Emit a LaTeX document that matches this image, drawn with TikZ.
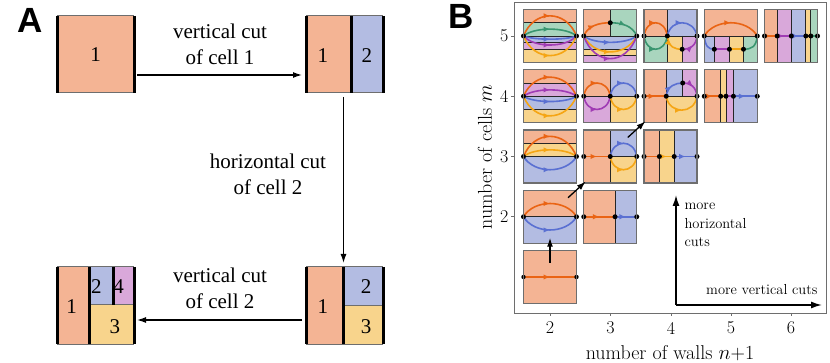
\documentclass[tikz,border=0pt]{standalone}
\usepackage{fontspec}
\usepackage{tikz}
\usetikzlibrary{arrows.meta, positioning, calc, decorations.markings}
\newfontfamily\timesfont{Liberation Serif}
\newfontfamily\headfont{Liberation Sans}
\definecolor{cellorange}{HTML}{F4B494}
\definecolor{cellblue}{HTML}{B3BCE2}
\definecolor{cellyellow}{HTML}{F8D48C}
\definecolor{cellpurple}{HTML}{D9A8DA}
\definecolor{cellgreen}{HTML}{A9D5BE}
\definecolor{pathorange}{HTML}{EA6414}
\definecolor{pathblue}{HTML}{5A70D2}
\definecolor{pathyellow}{HTML}{F5A514}
\definecolor{pathpurple}{HTML}{A03CB4}
\definecolor{pathgreen}{HTML}{3A9670}
\definecolor{framegray}{HTML}{6E6E6E}
\tikzstyle{bigbox} = [rectangle, minimum size=77pt, inner sep=0pt, outer sep=0pt]
\tikzstyle{smallbox} = [rectangle, minimum size=53pt, inner sep=0pt, outer sep=0pt]
\tikzstyle{inbig} = [x=77pt, y=-77pt]
\tikzstyle{insmall} = [x=53pt, y=-53pt]
\tikzstyle{wall} = [line width=3pt, black]
\tikzstyle{rimline} = [line width=1pt, framegray]
\tikzstyle{cutline} = [line width=0.9pt, black!85]
\tikzstyle{cellframe} = [line width=1.1pt, framegray]
\tikzstyle{flow} = [line width=1.6pt, decoration={markings, mark=at position 0.5 with {\arrow{Latex[length=6.5pt,width=5.5pt]}}}, postaction={decorate}]
\tikzstyle{flowline} = [line width=1.6pt]
\tikzstyle{wdot} = [black]
\tikzstyle{arrow} = [line width=1.3pt, -{Latex[length=9pt,width=6pt]}]
\tikzstyle{bigarrow} = [line width=1.5pt, -{Latex[length=11pt,width=7pt]}]
\tikzstyle{cutlabel} = [font=\timesfont\fontsize{21}{26}\selectfont, align=center]
\tikzstyle{celllabel} = [font=\timesfont\fontsize{21}{24}\selectfont, inner sep=0pt]
\tikzstyle{panellabel} = [font=\headfont\bfseries\fontsize{35}{35}\selectfont]
\tikzstyle{ticklabel} = [font=\fontsize{18}{18}\selectfont]
\tikzstyle{axislabel} = [font=\fontsize{20}{20}\selectfont]
\tikzstyle{notelabel} = [font=\fontsize{14.5}{18.5}\selectfont, align=left]

\begin{document}
\begin{tikzpicture}[x=1pt, y=-1pt]
  \useasboundingbox (0,0) rectangle (830,363);

  \node (labA) [panellabel] at (30,20) {A};
  \node (boxa) [bigbox] at (95.5,54.5) {};
  \node (boxb) [bigbox, right=172pt of boxa] {};
  \node (boxc) [bigbox, below=174pt of boxb] {};
  \node (boxd) [bigbox, left=172pt of boxc] {};

  \begin{scope}[shift={(boxa.north west)}, inbig]
    \fill[cellorange] (0,0) rectangle (1,1);
    \draw[rimline] (0,0) -- (1,0) (0,1) -- (1,1);
    \draw[wall] (0,0) -- (0,1) (1,0) -- (1,1);
    \node (la1) [celllabel] at (0.5,0.5) {1};
  \end{scope}
  \begin{scope}[shift={(boxb.north west)}, inbig]
    \fill[cellorange] (0,0) rectangle (0.59,1);
    \fill[cellblue] (0.59,0) rectangle (1,1);
    \draw[rimline] (0,0) -- (1,0) (0,1) -- (1,1);
    \draw[wall] (0,0) -- (0,1) (0.59,0) -- (0.59,1) (1,0) -- (1,1);
    \node (lb1) [celllabel] at (0.22,0.52) {1};
    \node (lb2) [celllabel] at (0.79,0.52) {2};
  \end{scope}
  \begin{scope}[shift={(boxc.north west)}, inbig]
    \fill[cellorange] (0,0) rectangle (0.49,1);
    \fill[cellblue] (0.49,0) rectangle (1,0.5);
    \fill[cellyellow] (0.49,0.5) rectangle (1,1);
    \draw[rimline] (0,0) -- (1,0) (0,1) -- (1,1) (0.49,0.5) -- (1,0.5);
    \draw[wall] (0,0) -- (0,1) (0.49,0) -- (0.49,1) (1,0) -- (1,1);
    \node (lc1) [celllabel] at (0.22,0.52) {1};
    \node (lc2) [celllabel] at (0.78,0.26) {2};
    \node (lc3) [celllabel] at (0.78,0.77) {3};
  \end{scope}
  \begin{scope}[shift={(boxd.north west)}, inbig]
    \fill[cellorange] (0,0) rectangle (0.42,1);
    \fill[cellblue] (0.42,0) rectangle (0.74,0.49);
    \fill[cellpurple] (0.74,0) rectangle (1,0.49);
    \fill[cellyellow] (0.42,0.49) rectangle (1,1);
    \draw[rimline] (0,0) -- (1,0) (0,1) -- (1,1) (0.42,0.49) -- (1,0.49);
    \draw[wall] (0,0) -- (0,1) (0.42,0) -- (0.42,1) (0.74,0) -- (0.74,0.49) (1,0) -- (1,1);
    \node (ld1) [celllabel] at (0.19,0.51) {1};
    \node (ld2) [celllabel] at (0.51,0.26) {2};
    \node (ld4) [celllabel] at (0.80,0.26) {4};
    \node (ld3) [celllabel] at (0.75,0.77) {3};
  \end{scope}

  \draw[arrow] ([xshift=3pt,yshift=-20.5pt]boxa.east) -- ([xshift=-4pt,yshift=-20.5pt]boxb.west);
  \draw[arrow] ([xshift=-1pt,yshift=-4pt]boxb.south) -- ([xshift=-1pt,yshift=4pt]boxc.north);
  \draw[arrow] ([xshift=-4pt,yshift=-14.5pt]boxc.west) -- ([xshift=3pt,yshift=-14.5pt]boxd.east);
  \node (cut1) [cutlabel] at (220,44) {vertical cut\\of cell 1};
  \node (cut2) [cutlabel] at (268,174) {horizontal cut\\of cell 2};
  \node (cut3) [cutlabel] at (220,288) {vertical cut\\of cell 2};

  \node (labB) [panellabel] at (461,16) {B};
  \draw[framegray, line width=0.8pt] (514,2) rectangle (826,313);
  \foreach \i/\x in {2/550,3/610.5,4/671,5/731,6/791} {
    \draw[framegray, line width=0.8pt] (\x,313) -- (\x,316);
    \node (xt\i) [ticklabel] at (\x,328) {\i};
  }
  \foreach \m/\y in {2/216.75,3/156.5,4/96.25,5/36} {
    \draw[framegray, line width=0.8pt] (511,\y) -- (514,\y);
    \node (yt\m) [ticklabel, anchor=east] at (512,\y) {\m};
  }
  \node (xlab) [axislabel] at (670,353) {number of walls $n$+1};
  \node (ylab) [axislabel, rotate=90] at (485,157) {number of cells $m$};

  \foreach \i/\m in {2/5,3/5,4/5,5/5,6/5,2/4,3/4,4/4,5/4,2/3,3/3,4/3,2/2,3/2,2/1}
    \node (c\i\m) [smallbox] at ({550+60.25*(\i-2)},{36+60.25*(5-\m)}) {};

  \begin{scope}[shift={(c25.north west)}, insmall]
    \fill[cellorange] (0,0) rectangle (1,0.25);
    \fill[cellgreen] (0,0.25) rectangle (1,0.5);
    \fill[cellblue] (0,0.5) rectangle (1,0.625);
    \fill[cellpurple] (0,0.625) rectangle (1,0.75);
    \fill[cellyellow] (0,0.75) rectangle (1,1);
    \draw[cutline] (0,0.25) -- (1,0.25) (0,0.5) -- (1,0.5) (0,0.625) -- (1,0.625) (0,0.75) -- (1,0.75);
    \draw[flow, pathorange] (0,0.5) .. controls (0.2,-0.007) and (0.8,-0.007) .. (1,0.5);
    \draw[flow, pathgreen] (0,0.5) .. controls (0.2,0.327) and (0.8,0.327) .. (1,0.5);
    \draw[flow, pathblue] (0,0.5) .. controls (0.2,0.58) and (0.8,0.58) .. (1,0.5);
    \draw[flow, pathpurple] (0,0.5) .. controls (0.2,0.727) and (0.8,0.727) .. (1,0.5);
    \draw[flow, pathyellow] (0,0.5) .. controls (0.2,0.993) and (0.8,0.993) .. (1,0.5);
    \fill[wdot] (0,0.5) circle (2.5pt) (1,0.5) circle (2.5pt);
  \end{scope}
  \begin{scope}[shift={(c35.north west)}, insmall]
    \fill[cellorange] (0,0) rectangle (0.5,0.5);
    \fill[cellgreen] (0.5,0) rectangle (1,0.5);
    \fill[cellblue] (0,0.5) rectangle (1,0.75);
    \fill[cellyellow] (0,0.75) rectangle (1,0.86);
    \fill[cellpurple] (0,0.86) rectangle (1,1);
    \draw[cutline] (0.5,0) -- (0.5,0.5) (0,0.5) -- (1,0.5) (0,0.75) -- (1,0.75) (0,0.86) -- (1,0.86);
    \draw[flow, pathorange] (0,0.5) .. controls (0.08,0.3) and (0.3,0.25) .. (0.5,0.25);
    \draw[flow, pathgreen] (0.5,0.25) .. controls (0.7,0.25) and (0.92,0.3) .. (1,0.5);
    \draw[flow, pathblue] (0,0.5) .. controls (0.2,0.66) and (0.8,0.66) .. (1,0.5);
    \draw[flow, pathyellow] (0,0.5) .. controls (0.2,0.9) and (0.8,0.9) .. (1,0.5);
    \draw[flow, pathpurple] (0,0.5) .. controls (0.2,1.07) and (0.8,1.07) .. (1,0.5);
    \fill[wdot] (0,0.5) circle (2.5pt) (1,0.5) circle (2.5pt) (0.5,0.25) circle (2.5pt);
  \end{scope}
  \begin{scope}[shift={(c45.north west)}, insmall]
    \fill[cellorange] (0,0) rectangle (0.44,0.5);
    \fill[cellblue] (0.44,0) rectangle (1,0.5);
    \fill[cellgreen] (0,0.5) rectangle (0.44,1);
    \fill[cellyellow] (0.44,0.5) rectangle (0.72,1);
    \fill[cellpurple] (0.72,0.5) rectangle (1,1);
    \draw[cutline] (0.44,0) -- (0.44,1) (0,0.5) -- (1,0.5) (0.72,0.5) -- (0.72,1);
    \draw[flow, pathorange] (0,0.5) .. controls (0.05,0.167) and (0.39,0.167) .. (0.44,0.5);
    \draw[flow, pathgreen] (0,0.5) .. controls (0.05,0.833) and (0.39,0.833) .. (0.44,0.5);
    \draw[flow, pathblue] (0.44,0.5) .. controls (0.5,0.167) and (0.94,0.167) .. (1,0.5);
    \draw[flow, pathyellow] (0.44,0.5) .. controls (0.47,0.72) and (0.58,0.75) .. (0.72,0.75);
    \draw[flow, pathpurple] (0.72,0.75) .. controls (0.88,0.75) and (0.98,0.68) .. (1,0.5);
    \fill[wdot] (0,0.5) circle (2.5pt) (0.44,0.5) circle (2.5pt) (1,0.5) circle (2.5pt) (0.72,0.75) circle (2.5pt);
  \end{scope}
  \begin{scope}[shift={(c55.north west)}, insmall]
    \fill[cellorange] (0,0) rectangle (1,0.5);
    \fill[cellblue] (0,0.5) rectangle (0.19,1);
    \fill[cellpurple] (0.19,0.5) rectangle (0.475,1);
    \fill[cellyellow] (0.475,0.5) rectangle (0.74,1);
    \fill[cellgreen] (0.74,0.5) rectangle (1,1);
    \draw[cutline] (0,0.5) -- (1,0.5) (0.19,0.5) -- (0.19,1) (0.475,0.5) -- (0.475,1) (0.74,0.5) -- (0.74,1);
    \draw[flow, pathorange] (0,0.5) .. controls (0.2,0.167) and (0.8,0.167) .. (1,0.5);
    \draw[flowline, pathblue] (0,0.5) .. controls (0.02,0.7) and (0.08,0.75) .. (0.19,0.75);
    \draw[flowline, pathpurple] (0.19,0.75) -- (0.475,0.75);
    \draw[flowline, pathyellow] (0.475,0.75) -- (0.74,0.75);
    \draw[flowline, pathgreen] (0.74,0.75) .. controls (0.9,0.75) and (0.98,0.7) .. (1,0.5);
    \fill[wdot] (0,0.5) circle (2.5pt) (1,0.5) circle (2.5pt) (0.19,0.75) circle (2.5pt) (0.475,0.75) circle (2.5pt) (0.74,0.75) circle (2.5pt);
  \end{scope}
  \begin{scope}[shift={(c65.north west)}, insmall]
    \fill[cellorange] (0,0) rectangle (0.24,1);
    \fill[cellpurple] (0.24,0) rectangle (0.506,1);
    \fill[cellblue] (0.506,0) rectangle (0.78,1);
    \fill[cellyellow] (0.78,0) rectangle (0.873,1);
    \fill[cellgreen] (0.873,0) rectangle (1,1);
    \draw[cutline] (0.24,0) -- (0.24,1) (0.506,0) -- (0.506,1) (0.78,0) -- (0.78,1) (0.873,0) -- (0.873,1);
    \draw[flow, pathorange] (0,0.5) -- (0.24,0.5);
    \draw[flow, pathpurple] (0.24,0.5) -- (0.506,0.5);
    \draw[flow, pathblue] (0.506,0.5) -- (0.78,0.5);
    \draw[flowline, pathyellow] (0.78,0.5) -- (0.873,0.5);
    \draw[flowline, pathgreen] (0.873,0.5) -- (1,0.5);
    \fill[wdot] (0,0.5) circle (2.5pt) (0.24,0.5) circle (2.5pt) (0.506,0.5) circle (2.5pt) (0.78,0.5) circle (2.5pt) (0.873,0.5) circle (2.5pt) (1,0.5) circle (2.5pt);
  \end{scope}

  \begin{scope}[shift={(c24.north west)}, insmall]
    \fill[cellorange] (0,0) rectangle (1,0.26);
    \fill[cellpurple] (0,0.26) rectangle (1,0.5);
    \fill[cellblue] (0,0.5) rectangle (1,0.75);
    \fill[cellyellow] (0,0.75) rectangle (1,1);
    \draw[cutline] (0,0.26) -- (1,0.26) (0,0.5) -- (1,0.5) (0,0.75) -- (1,0.75);
    \draw[flow, pathorange] (0,0.5) .. controls (0.2,0.02) and (0.8,0.02) .. (1,0.5);
    \draw[flow, pathpurple] (0,0.5) .. controls (0.2,0.34) and (0.8,0.34) .. (1,0.5);
    \draw[flow, pathblue] (0,0.5) .. controls (0.2,0.633) and (0.8,0.633) .. (1,0.5);
    \draw[flow, pathyellow] (0,0.5) .. controls (0.2,0.993) and (0.8,0.993) .. (1,0.5);
    \fill[wdot] (0,0.5) circle (2.5pt) (1,0.5) circle (2.5pt);
  \end{scope}
  \begin{scope}[shift={(c34.north west)}, insmall]
    \fill[cellorange] (0,0) rectangle (0.5,0.5);
    \fill[cellblue] (0.5,0) rectangle (1,0.5);
    \fill[cellpurple] (0,0.5) rectangle (0.5,1);
    \fill[cellyellow] (0.5,0.5) rectangle (1,1);
    \draw[cutline] (0.5,0) -- (0.5,1) (0,0.5) -- (1,0.5);
    \draw[flow, pathorange] (0,0.5) .. controls (0.05,0.167) and (0.45,0.167) .. (0.5,0.5);
    \draw[flow, pathpurple] (0,0.5) .. controls (0.05,0.833) and (0.45,0.833) .. (0.5,0.5);
    \draw[flow, pathblue] (0.5,0.5) .. controls (0.55,0.167) and (0.95,0.167) .. (1,0.5);
    \draw[flow, pathyellow] (0.5,0.5) .. controls (0.55,0.833) and (0.95,0.833) .. (1,0.5);
    \fill[wdot] (0,0.5) circle (2.5pt) (0.5,0.5) circle (2.5pt) (1,0.5) circle (2.5pt);
  \end{scope}
  \begin{scope}[shift={(c44.north west)}, insmall]
    \fill[cellorange] (0,0) rectangle (0.42,1);
    \fill[cellblue] (0.42,0) rectangle (0.73,0.5);
    \fill[cellpurple] (0.73,0) rectangle (1,0.5);
    \fill[cellyellow] (0.42,0.5) rectangle (1,1);
    \draw[cutline] (0.42,0) -- (0.42,1) (0.73,0) -- (0.73,0.5) (0.42,0.5) -- (1,0.5);
    \draw[flow, pathorange] (0,0.5) -- (0.42,0.5);
    \draw[flow, pathblue] (0.42,0.5) .. controls (0.44,0.3) and (0.6,0.25) .. (0.73,0.25);
    \draw[flow, pathpurple] (0.73,0.25) .. controls (0.88,0.25) and (0.98,0.32) .. (1,0.5);
    \draw[flow, pathyellow] (0.42,0.5) .. controls (0.47,0.85) and (0.95,0.85) .. (1,0.5);
    \fill[wdot] (0,0.5) circle (2.5pt) (0.42,0.5) circle (2.5pt) (1,0.5) circle (2.5pt) (0.73,0.25) circle (2.5pt);
  \end{scope}
  \begin{scope}[shift={(c54.north west)}, insmall]
    \fill[cellorange] (0,0) rectangle (0.31,1);
    \fill[cellyellow] (0.31,0) rectangle (0.41,1);
    \fill[cellpurple] (0.41,0) rectangle (0.55,1);
    \fill[cellblue] (0.55,0) rectangle (1,1);
    \draw[cutline] (0.31,0) -- (0.31,1) (0.41,0) -- (0.41,1) (0.55,0) -- (0.55,1);
    \draw[flow, pathorange] (0,0.5) -- (0.31,0.5);
    \draw[flowline, pathyellow] (0.31,0.5) -- (0.41,0.5);
    \draw[flowline, pathpurple] (0.41,0.5) -- (0.55,0.5);
    \draw[flow, pathblue] (0.55,0.5) -- (1,0.5);
    \fill[wdot] (0,0.5) circle (2.5pt) (0.31,0.5) circle (2.5pt) (0.41,0.5) circle (2.5pt) (0.55,0.5) circle (2.5pt) (1,0.5) circle (2.5pt);
  \end{scope}

  \begin{scope}[shift={(c23.north west)}, insmall]
    \fill[cellorange] (0,0) rectangle (1,0.25);
    \fill[cellyellow] (0,0.25) rectangle (1,0.5);
    \fill[cellblue] (0,0.5) rectangle (1,1);
    \draw[cutline] (0,0.25) -- (1,0.25) (0,0.5) -- (1,0.5);
    \draw[flow, pathorange] (0,0.5) .. controls (0.2,-0.007) and (0.8,-0.007) .. (1,0.5);
    \draw[flow, pathyellow] (0,0.5) .. controls (0.2,0.333) and (0.8,0.333) .. (1,0.5);
    \draw[flow, pathblue] (0,0.5) .. controls (0.2,0.833) and (0.8,0.833) .. (1,0.5);
    \fill[wdot] (0,0.5) circle (2.5pt) (1,0.5) circle (2.5pt);
  \end{scope}
  \begin{scope}[shift={(c33.north west)}, insmall]
    \fill[cellorange] (0,0) rectangle (0.5,1);
    \fill[cellblue] (0.5,0) rectangle (1,0.5);
    \fill[cellyellow] (0.5,0.5) rectangle (1,1);
    \draw[cutline] (0.5,0) -- (0.5,1) (0.5,0.5) -- (1,0.5);
    \draw[flow, pathorange] (0,0.5) -- (0.5,0.5);
    \draw[flow, pathblue] (0.5,0.5) .. controls (0.55,0.167) and (0.95,0.167) .. (1,0.5);
    \draw[flow, pathyellow] (0.5,0.5) .. controls (0.55,0.833) and (0.95,0.833) .. (1,0.5);
    \fill[wdot] (0,0.5) circle (2.5pt) (0.5,0.5) circle (2.5pt) (1,0.5) circle (2.5pt);
  \end{scope}
  \begin{scope}[shift={(c43.north west)}, insmall]
    \fill[cellorange] (0,0) rectangle (0.29,1);
    \fill[cellyellow] (0.29,0) rectangle (0.57,1);
    \fill[cellblue] (0.57,0) rectangle (1,1);
    \draw[cutline] (0.29,0) -- (0.29,1) (0.57,0) -- (0.57,1);
    \draw[flowline, pathorange] (0,0.5) -- (0.29,0.5);
    \draw[flow, pathyellow] (0.29,0.5) -- (0.57,0.5);
    \draw[flow, pathblue] (0.57,0.5) -- (1,0.5);
    \fill[wdot] (0,0.5) circle (2.5pt) (0.29,0.5) circle (2.5pt) (0.57,0.5) circle (2.5pt) (1,0.5) circle (2.5pt);
  \end{scope}

  \begin{scope}[shift={(c22.north west)}, insmall]
    \fill[cellorange] (0,0) rectangle (1,0.5);
    \fill[cellblue] (0,0.5) rectangle (1,1);
    \draw[cutline] (0,0.5) -- (1,0.5);
    \draw[flow, pathorange] (0,0.5) .. controls (0.2,0.167) and (0.8,0.167) .. (1,0.5);
    \draw[flow, pathblue] (0,0.5) .. controls (0.2,0.833) and (0.8,0.833) .. (1,0.5);
    \fill[wdot] (0,0.5) circle (2.5pt) (1,0.5) circle (2.5pt);
  \end{scope}
  \begin{scope}[shift={(c32.north west)}, insmall]
    \fill[cellorange] (0,0) rectangle (0.59,1);
    \fill[cellblue] (0.59,0) rectangle (1,1);
    \draw[cutline] (0.59,0) -- (0.59,1);
    \draw[flow, pathorange] (0,0.5) -- (0.59,0.5);
    \draw[flow, pathblue] (0.59,0.5) -- (1,0.5);
    \fill[wdot] (0,0.5) circle (2.5pt) (0.59,0.5) circle (2.5pt) (1,0.5) circle (2.5pt);
  \end{scope}
  \begin{scope}[shift={(c21.north west)}, insmall]
    \fill[cellorange] (0,0) rectangle (1,1);
    \draw[flow, pathorange] (0,0.5) -- (1,0.5);
    \fill[wdot] (0,0.5) circle (2.2pt) (1,0.5) circle (2.2pt);
  \end{scope}

  \foreach \c in {c25,c35,c45,c55,c65,c24,c34,c44,c54,c23,c33,c43,c22,c32,c21}
    \draw[cellframe] (\c.north west) rectangle (\c.south east);

  \draw[arrow] ([yshift=-12.5pt]c21.north) -- ([yshift=5.5pt]c22.south);
  \draw[arrow] ([xshift=-8.5pt,yshift=-7.5pt]c22.north east) -- ([xshift=2pt,yshift=1.5pt]c33.south west);
  \draw[arrow] ([xshift=-9pt,yshift=-7.5pt]c33.north east) -- ([xshift=1.5pt,yshift=1.5pt]c44.south west);

  \coordinate (corner) at (676,305);
  \coordinate (hcutend) at (676,195);
  \coordinate (vcutend) at (822,305);
  \draw[bigarrow] (corner) -- (hcutend);
  \draw[bigarrow] (corner) -- (vcutend);
  \node (hcuts) [notelabel, anchor=west] at (681,225) {more\\horizontal\\cuts};
  \node (vcuts) [notelabel, anchor=east] at (821,290) {more vertical cuts};
\end{tikzpicture}
\end{document}
